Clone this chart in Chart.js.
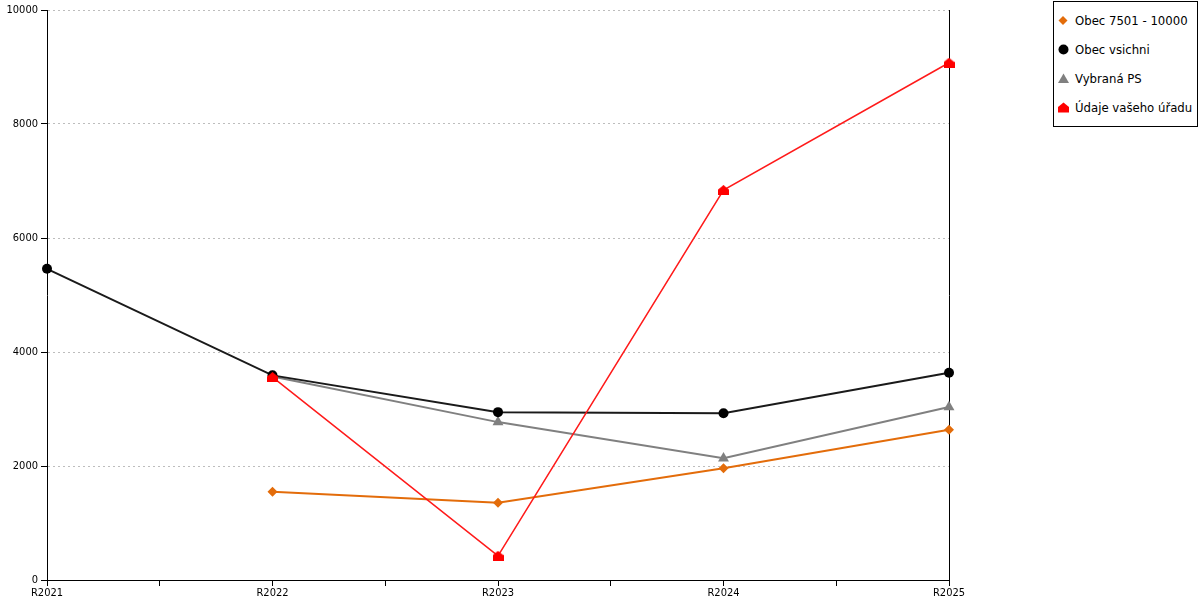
<!DOCTYPE html>
<html>
<head>
<meta charset="utf-8">
<script src="https://cdn.jsdelivr.net/npm/chart.js@4"></script>
<style>
  body { margin: 0; background: #fff; }
  #wrap { position: relative; width: 1200px; height: 600px; }
  #legend {
    position: absolute; left: 1053px; top: 1px; width: 143px; height: 124px;
    border: 1px solid #000; background: #fff;
    font: 13px "DejaVu Sans Condensed", "DejaVu Sans", sans-serif; color: #000;
  }
  #legend .item { position: absolute; left: 0; height: 16px; line-height: 16px; white-space: nowrap; }
  #legend svg { position: absolute; left: 4px; top: 2px; }
  #legend span { position: absolute; left: 21px; top: 0; }
</style>
</head>
<body>
<div id="wrap">
  <canvas id="chart"></canvas>
  <div id="legend"></div>
</div>
<script>
// categories and series
const categories = ['R2021', 'R2022', 'R2023', 'R2024', 'R2025'];
const obec7501 = [null, 1550, 1355, 1960, 2635];
const obecVsichni = [5460, 3590, 2945, 2927, 3635];
const vybranaPS = [null, 3570, 2770, 2135, 3035];
const udajeUradu = [null, 3560, 425, 6840, 9075];
const yTicks = [0, 2000, 4000, 6000, 8000, 10000];

const FONT = '"DejaVu Sans Condensed", "DejaVu Sans", sans-serif';

// house shaped marker for the office series
function houseMarker(color) {
  const c = document.createElement('canvas');
  c.width = 11; c.height = 10;
  const g = c.getContext('2d');
  g.fillStyle = color;
  g.beginPath();
  g.moveTo(5.5, 0); g.lineTo(11, 4.5); g.lineTo(11, 10); g.lineTo(0, 10); g.lineTo(0, 4.5);
  g.closePath(); g.fill();
  return c;
}

function pts(arr) {
  return arr.map((v, i) => ({ x: i, y: v }));
}

const series = [
  { label: 'Obec 7501 - 10000', data: obec7501, color: '#e36c0a', fill: '#e36c0a', style: 'rectRot', radius: 5, width: 2, order: 3 },
  { label: 'Obec vsichni', data: obecVsichni, color: '#1a1a1a', fill: '#000', style: 'circle', radius: 5, width: 2, order: 1 },
  { label: 'Vybraná PS', data: vybranaPS, color: '#808080', fill: '#808080', style: 'triangle', radius: 6.3, width: 2, order: 2 },
  { label: 'Údaje vašeho úřadu', data: udajeUradu, color: '#ff1a1a', fill: '#ff0000', style: houseMarker('#ff0000'), radius: 5, width: 1.5, order: 0 }
];

Chart.defaults.font.family = FONT;
Chart.defaults.font.size = 11;
Chart.defaults.color = '#000';

new Chart(document.getElementById('chart'), {
  type: 'line',
  data: {
    datasets: series.map(s => ({
      label: s.label,
      data: pts(s.data),
      borderColor: s.color,
      backgroundColor: s.fill,
      borderWidth: s.width,
      pointStyle: s.style,
      pointRadius: s.radius,
      pointBorderWidth: 0,
      tension: 0,
      clip: false,
      order: s.order
    }))
  },
  options: {
    responsive: true,
    maintainAspectRatio: false,
    animation: false,
    layout: { padding: { left: 0, right: 251, top: 10, bottom: 0 } },
    plugins: { legend: { display: false }, tooltip: { enabled: false } },
    scales: {
      x: {
        type: 'linear',
        min: 0,
        max: categories.length - 1,
        afterFit: s => { s.height = 20; },
        ticks: {
          stepSize: 0.5,
          autoSkip: false,
          maxRotation: 0,
          padding: 1,
          callback: v => Number.isInteger(v) ? categories[v] : ''
        },
        grid: { drawOnChartArea: false, drawTicks: true, tickLength: 6, tickColor: '#000' },
        border: { color: '#000', width: 1 }
      },
      y: {
        min: 0,
        max: 10000,
        afterFit: s => { s.width = 47; },
        afterBuildTicks: s => { s.ticks = yTicks.map(v => ({ value: v })); },
        ticks: { padding: 3, callback: v => String(v) },
        grid: { color: '#bdbdbd', tickColor: '#000', tickLength: 6, tickBorderDash: [] },
        border: { color: '#000', width: 1, dash: [2, 3] }
      },
      yRight: {
        position: 'right',
        min: 0,
        max: 10000,
        afterFit: s => { s.width = 0; },
        ticks: { display: false },
        grid: { display: false },
        border: { color: '#000', width: 1 }
      }
    }
  }
});

// html legend with the same markers
const markerSvg = {
  'rectRot': c => `<polygon points="5,1 9.5,5.5 5,10 0.5,5.5" fill="${c}"/>`,
  'circle': c => `<circle cx="5.5" cy="5.5" r="5" fill="${c}"/>`,
  'triangle': c => `<polygon points="5.5,0.5 11,10 0,10" fill="${c}"/>`,
  'house': c => `<polygon points="5.5,0.5 11,5 11,10.5 0,10.5 0,5" fill="${c}"/>`
};
const legendShapes = ['rectRot', 'circle', 'triangle', 'house'];
const legend = document.getElementById('legend');
series.forEach((s, i) => {
  const item = document.createElement('div');
  item.className = 'item';
  item.style.top = (11 + i * 29) + 'px';
  item.innerHTML = `<svg width="12" height="12">${markerSvg[legendShapes[i]](s.fill)}</svg><span>${s.label}</span>`;
  legend.appendChild(item);
});
</script>
</body>
</html>
